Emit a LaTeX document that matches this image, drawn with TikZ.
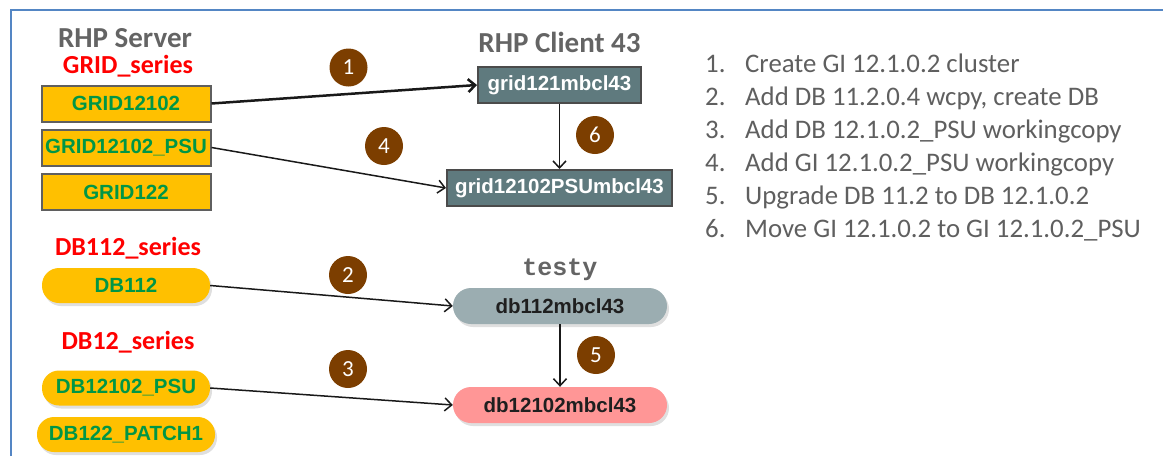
\documentclass[tikz,border=0pt]{standalone}
\usepackage{fontspec}
\setmainfont{Carlito}
\newfontfamily\arialfont{Liberation Sans}
\newfontfamily\courfont{Liberation Mono}
\usetikzlibrary{arrows.meta,shadows}
\definecolor{gold}{RGB}{255,192,0}
\definecolor{txtgreen}{RGB}{0,150,70}
\definecolor{hdrgray}{RGB}{100,100,100}
\definecolor{boxgray}{RGB}{95,95,95}
\definecolor{clientfill}{RGB}{95,122,126}
\definecolor{clientdraw}{RGB}{75,75,75}
\definecolor{dbgray}{RGB}{155,173,177}
\definecolor{dbpink}{RGB}{255,150,150}
\definecolor{badge}{RGB}{124,62,0}
\definecolor{frameblue}{RGB}{84,134,196}
\definecolor{listgray}{RGB}{95,95,95}
\tikzset{
  hdr/.style={text=hdrgray, font=\bfseries\fontsize{29}{34}\selectfont, inner sep=0},
  series/.style={text=red, font=\bfseries\fontsize{26}{30}\selectfont, inner sep=0},
  gridbox/.style={draw=boxgray, line width=2pt, fill=gold, minimum width=169, minimum height=36, inner sep=0,
    font=\arialfont\bfseries\fontsize{20.5}{24}\selectfont, text=txtgreen},
  dbpill/.style={fill=gold, rounded corners=17pt, minimum width=168, minimum height=35, inner sep=0,
    font=\arialfont\bfseries\fontsize{20.5}{24}\selectfont, text=txtgreen,
    drop shadow={shadow xshift=2pt, shadow yshift=-3pt, opacity=0.25}},
  clientbox/.style={draw=clientdraw, line width=2pt, fill=clientfill, minimum height=36, inner sep=0,
    font=\arialfont\bfseries\fontsize{20.5}{24}\selectfont, text=white},
  clientpill/.style={rounded corners=18pt, minimum width=214, minimum height=36, inner sep=0,
    font=\arialfont\bfseries\fontsize{20.5}{24}\selectfont, text=black!88,
    drop shadow={shadow xshift=2pt, shadow yshift=-3pt, opacity=0.25}},
  numbadge/.style={circle, fill=badge, minimum size=38, inner sep=0, text=white,
    font=\fontsize{23}{26}\selectfont},
  conn/.style={line width=1.5pt, draw=black!90, -{Straight Barb[length=7pt,width=13pt]}},
  item/.style={anchor=base west, inner sep=0, text=listgray, font=\fontsize{26.8}{30}\selectfont},
}
\begin{document}
\begin{tikzpicture}[x=1pt,y=-1pt]
\useasboundingbox (0,0) rectangle (1163,456);
% frame
\draw[frameblue, line width=2pt] (11,456) -- (11,10) -- (1163,10);

% server side
\node[hdr] (srv) at (125,38) {RHP Server};
\node[series] (gs) at (128,66) {GRID\_series};
\node[gridbox] (g1) at (126,103.5) {GRID12102};
\node[gridbox] (g2) at (126,147.5) {GRID12102\_PSU};
\node[gridbox] (g3) at (126,192) {GRID122};

\node[series] (db11s) at (128,248) {DB112\_series};
\node[dbpill] (d1) at (126,285.5) {DB112};
\node[series] (db12s) at (128,342.5) {DB12\_series};
\node[dbpill] (d2) at (126,388) {DB12102\_PSU};
\node[dbpill, minimum width=178] (d3) at (126,434.5) {DB122\_PATCH1};

% client side
\node[hdr] (cli) at (559.5,42) {RHP Client 43};
\node[clientbox, minimum width=163] (c1) at (559.5,85) {grid121mbcl43};
\node[clientbox, minimum width=225] (c2) at (559.5,188) {grid12102PSUmbcl43};
\node[inner sep=0, text=hdrgray, font=\courfont\bfseries\fontsize{25}{28}\selectfont] (testy) at (560,270) {testy};
\node[clientpill, fill=dbgray] (t1) at (560,306) {db112mbcl43};
\node[clientpill, fill=dbpink] (t2) at (560,405) {db12102mbcl43};

% connectors
\draw[conn, line width=2.5pt] (g1.east) -- (c1.west);
\draw[conn] (g2.east) -- (c2.west);
\draw[conn] (c1.south) -- (c2.north);
\draw[conn] (d1.east) -- (t1.west);
\draw[conn] (d2.east) -- (t2.west);
\draw[conn] (t1.south) -- (t2.north);

% badges
\node[numbadge] (b1) at (348.5,67.5) {1};
\node[numbadge] (b4) at (384,146) {4};
\node[numbadge] (b6) at (595,135) {6};
\node[numbadge] (b2) at (348,275) {2};
\node[numbadge] (b3) at (348,369) {3};
\node[numbadge] (b5) at (596,355) {5};

% step list
\node[item] (l1) at (705,72)  {\makebox[40pt][l]{1.}Create GI 12.1.0.2 cluster};
\node[item] (l2) at (705,105) {\makebox[40pt][l]{2.}Add DB 11.2.0.4 wcpy, create DB};
\node[item] (l3) at (705,138) {\makebox[40pt][l]{3.}Add DB 12.1.0.2\_PSU workingcopy};
\node[item] (l4) at (705,171) {\makebox[40pt][l]{4.}Add GI 12.1.0.2\_PSU workingcopy};
\node[item] (l5) at (705,204) {\makebox[40pt][l]{5.}Upgrade DB 11.2 to DB 12.1.0.2};
\node[item] (l6) at (705,237) {\makebox[40pt][l]{6.}Move GI 12.1.0.2 to GI 12.1.0.2\_PSU};
\end{tikzpicture}
\end{document}
